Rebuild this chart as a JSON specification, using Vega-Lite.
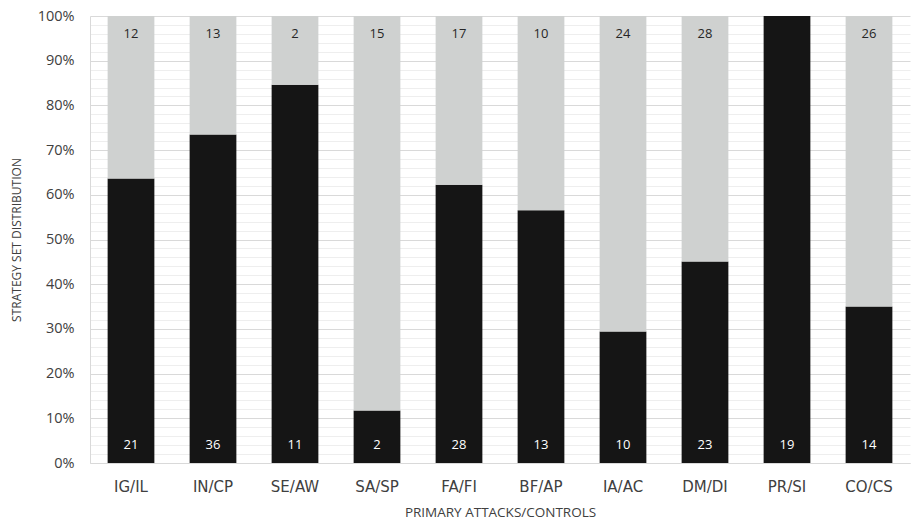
{
  "$schema": "https://vega.github.io/schema/vega-lite/v6.json",
  "width": 820,
  "height": 447,
  "autosize": {"type": "none"},
  "padding": {"left": 90, "top": 16, "right": 7, "bottom": 63},
  "background": "white",
  "config": {"view": {"stroke": null}, "font": "Open Sans"},
  "data": {
    "values": [
      {"cat": "IG/IL", "part": "attack", "n": 21, "order": 1},
      {"cat": "IG/IL", "part": "control", "n": 12, "order": 2},
      {"cat": "IN/CP", "part": "attack", "n": 36, "order": 1},
      {"cat": "IN/CP", "part": "control", "n": 13, "order": 2},
      {"cat": "SE/AW", "part": "attack", "n": 11, "order": 1},
      {"cat": "SE/AW", "part": "control", "n": 2, "order": 2},
      {"cat": "SA/SP", "part": "attack", "n": 2, "order": 1},
      {"cat": "SA/SP", "part": "control", "n": 15, "order": 2},
      {"cat": "FA/FI", "part": "attack", "n": 28, "order": 1},
      {"cat": "FA/FI", "part": "control", "n": 17, "order": 2},
      {"cat": "BF/AP", "part": "attack", "n": 13, "order": 1},
      {"cat": "BF/AP", "part": "control", "n": 10, "order": 2},
      {"cat": "IA/AC", "part": "attack", "n": 10, "order": 1},
      {"cat": "IA/AC", "part": "control", "n": 24, "order": 2},
      {"cat": "DM/DI", "part": "attack", "n": 23, "order": 1},
      {"cat": "DM/DI", "part": "control", "n": 28, "order": 2},
      {"cat": "PR/SI", "part": "attack", "n": 19, "order": 1},
      {"cat": "PR/SI", "part": "control", "n": 0, "order": 2},
      {"cat": "CO/CS", "part": "attack", "n": 14, "order": 1},
      {"cat": "CO/CS", "part": "control", "n": 26, "order": 2}
    ]
  },
  "encoding": {
    "x": {
      "field": "cat",
      "type": "nominal",
      "sort": null,
      "scale": {"paddingInner": 0.43, "paddingOuter": 0.215},
      "axis": {
        "title": "PRIMARY ATTACKS/CONTROLS",
        "titleFont": "Open Sans",
        "titleFontSize": 13.5,
        "titleFontWeight": "normal",
        "titleColor": "#404040",
        "titlePadding": 11,
        "labelAngle": 0,
        "labelFont": "DejaVu Sans",
        "labelFontSize": 15,
        "labelColor": "#404040",
        "labelPadding": 16,
        "ticks": false,
        "domainColor": "#d9d9d9",
        "grid": false
      }
    }
  },
  "layer": [
    {
      "mark": {"type": "rule", "opacity": 0},
      "encoding": {
        "y": {
          "datum": 0,
          "type": "quantitative",
          "scale": {"domain": [0, 1]},
          "axis": {
            "orient": "right",
            "title": null,
            "labels": false,
            "ticks": false,
            "domain": false,
            "grid": true,
            "gridColor": "#eeeeee",
            "values": [0.02, 0.04, 0.06, 0.08, 0.12, 0.14, 0.16, 0.18, 0.22, 0.24, 0.26, 0.28, 0.32, 0.34, 0.36, 0.38, 0.42, 0.44, 0.46, 0.48, 0.52, 0.54, 0.56, 0.58, 0.62, 0.64, 0.66, 0.68, 0.72, 0.74, 0.76, 0.78, 0.82, 0.84, 0.86, 0.88, 0.92, 0.94, 0.96, 0.98]
          }
        }
      }
    },
    {
      "mark": {"type": "bar", "stroke": null},
      "encoding": {
        "y": {
          "field": "n",
          "type": "quantitative",
          "stack": "normalize",
          "scale": {"domain": [0, 1]},
          "axis": {
            "orient": "left",
            "title": "STRATEGY SET DISTRIBUTION",
            "titleFont": "Open Sans",
            "titleFontSize": 12,
            "titleFontWeight": "normal",
            "titleColor": "#404040",
            "titlePadding": 14,
            "format": "%",
            "values": [0, 0.1, 0.2, 0.3, 0.4, 0.5, 0.6, 0.7, 0.8, 0.9, 1],
            "labelFontSize": 14.5,
            "labelColor": "#404040",
            "labelPadding": 16,
            "ticks": false,
            "domainColor": "#d9d9d9",
            "gridColor": "#d9d9d9",
            "grid": true
          }
        },
        "order": {"field": "order", "type": "quantitative"},
        "color": {
          "field": "part",
          "type": "nominal",
          "scale": {"domain": ["attack", "control"], "range": ["#151515", "#cfd1d0"]},
          "legend": null
        }
      }
    },
    {
      "transform": [{"filter": "datum.part == 'control' && datum.n > 0"}],
      "mark": {"type": "text", "fontSize": 13, "color": "#262626", "font": "Open Sans"},
      "encoding": {
        "y": {"datum": 0.96, "type": "quantitative", "axis": null},
        "text": {"field": "n", "type": "quantitative"}
      }
    },
    {
      "transform": [{"filter": "datum.part == 'attack'"}],
      "mark": {"type": "text", "fontSize": 13, "color": "#ffffff", "font": "Open Sans"},
      "encoding": {
        "y": {"datum": 0.04, "type": "quantitative", "axis": null},
        "text": {"field": "n", "type": "quantitative"}
      }
    }
  ],
  "resolve": {"axis": {"y": "independent"}}
}
